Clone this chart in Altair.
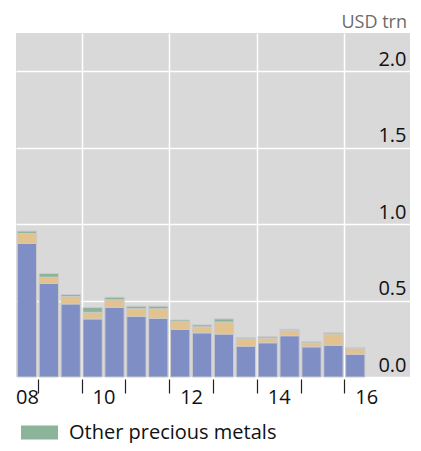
import altair as alt
import pandas as pd

# Half-year periods (end of period)
periods = ["2008 H2", "2009 H1", "2009 H2", "2010 H1", "2010 H2", "2011 H1", "2011 H2",
           "2012 H1", "2012 H2", "2013 H1", "2013 H2", "2014 H1", "2014 H2", "2015 H1",
           "2015 H2", "2016 H1"]
other_commodities = [0.873, 0.612, 0.478, 0.380, 0.456, 0.397, 0.384, 0.311, 0.289, 0.281,
                     0.202, 0.224, 0.270, 0.197, 0.208, 0.149]
gold = [0.066, 0.041, 0.048, 0.043, 0.049, 0.049, 0.062, 0.051, 0.039, 0.079,
        0.048, 0.031, 0.035, 0.026, 0.074, 0.037]
other_precious = [0.015, 0.024, 0.013, 0.031, 0.017, 0.017, 0.017, 0.011, 0.013, 0.020,
                  0.007, 0.009, 0.007, 0.007, 0.007, 0.007]

series_names = ["Other commodities", "Gold", "Other precious metals"]
series_colors = ["#808ec6", "#e2c28e", "#8bb49a"]
legend_shown = ["Other precious metals"]

tick_years = [2009, 2010, 2011, 2012, 2013, 2014, 2015, 2016]
label_positions = [2008.75, 2010.5, 2012.5, 2014.5, 2016.5]
label_texts = ["08", "10", "12", "14", "16"]
y_ticks = [0.0, 0.5, 1.0, 1.5, 2.0]

FONT = "Open Sans"

rows = []
for i, p in enumerate(periods):
    yr, half = p.split()
    start = int(yr) + (0.5 if half == "H2" else 0.0)
    for k, (name, vals) in enumerate(zip(series_names, [other_commodities, gold, other_precious])):
        rows.append({"period": p, "start": start, "series": name, "order": k, "value": vals[i]})
df = pd.DataFrame(rows)

label_expr = ""
for pos, txt in zip(label_positions, label_texts):
    label_expr += f"datum.value == {pos} ? '{txt}' : "
label_expr += "''"

x_axis = alt.Axis(
    values=tick_years + label_positions,
    labelExpr=label_expr,
    title=None,
    domain=False,
    grid=True,
    gridColor="white",
    gridWidth=1.5,
    gridOpacity={"condition": {"test": "datum.value % 2 == 0", "value": 1}, "value": 0},
    ticks=True,
    tickSize=14,
    tickColor="#222222",
    tickWidth=1.2,
    tickOpacity={"condition": {"test": "datum.value % 1 == 0", "value": 1}, "value": 0},
    offset=2,
    labelPadding=-6,
    labelFontSize=20,
    labelFont=FONT,
    labelColor="#111111",
    labelFlush=False,
    labelOverlap=False,
    labelBound=False,
)

y_axis = alt.Axis(
    orient="right",
    values=y_ticks,
    format=".1f",
    title=None,
    domain=False,
    ticks=False,
    tickSize=0,
    grid=True,
    gridColor="white",
    gridWidth=1.5,
    labelPadding=-4,
    labelAlign="right",
    labelBaseline="alphabetic",
    labelOffset=-6,
    labelFontSize=20,
    labelFont=FONT,
    labelColor="#111111",
)

chart = alt.Chart(df).transform_stack(
    stack="value", groupby=["period"], sort=[alt.SortField("order", "ascending")],
    as_=["y0", "y1"],
).transform_calculate(
    x0="datum.start + 0.03",
    x1="datum.start + 0.47",
).mark_bar(stroke="#cbcbcb", strokeWidth=1).encode(
    x=alt.X("x0:Q", scale=alt.Scale(domain=[2008.5, 2017.5], nice=False, zero=False), axis=x_axis),
    x2="x1:Q",
    y=alt.Y("y0:Q", scale=alt.Scale(domain=[0, 2.25], nice=False), axis=y_axis),
    y2="y1:Q",
    color=alt.Color(
        "series:N",
        scale=alt.Scale(domain=series_names, range=series_colors),
        legend=alt.Legend(
            values=legend_shown,
            title=None,
            orient="none",
            legendX=5,
            legendY=381,
            padding=0,
            symbolType="M-1,-0.38H1V0.38H-1Z",
            symbolSize=1369,
            symbolStrokeWidth=0,
            symbolOpacity=1,
            labelFontSize=20,
            labelFont=FONT,
            labelColor="#111111",
            labelOffset=11,
            labelLimit=500,
        ),
    ),
).properties(
    width=394,
    height=344,
    title=alt.TitleParams(
        "USD trn", anchor="end", frame="group", fontSize=18, font=FONT,
        fontWeight="normal", color="#6b6b6b", offset=1, dx=-3,
    ),
    autosize=alt.AutoSizeParams(type="none"),
    padding={"left": 8, "top": 25, "right": 3, "bottom": 66},
).configure_view(
    fill="#d9d9d9", stroke=None
)

chart.save("out.html", embed_options={"renderer": "svg", "actions": False})
